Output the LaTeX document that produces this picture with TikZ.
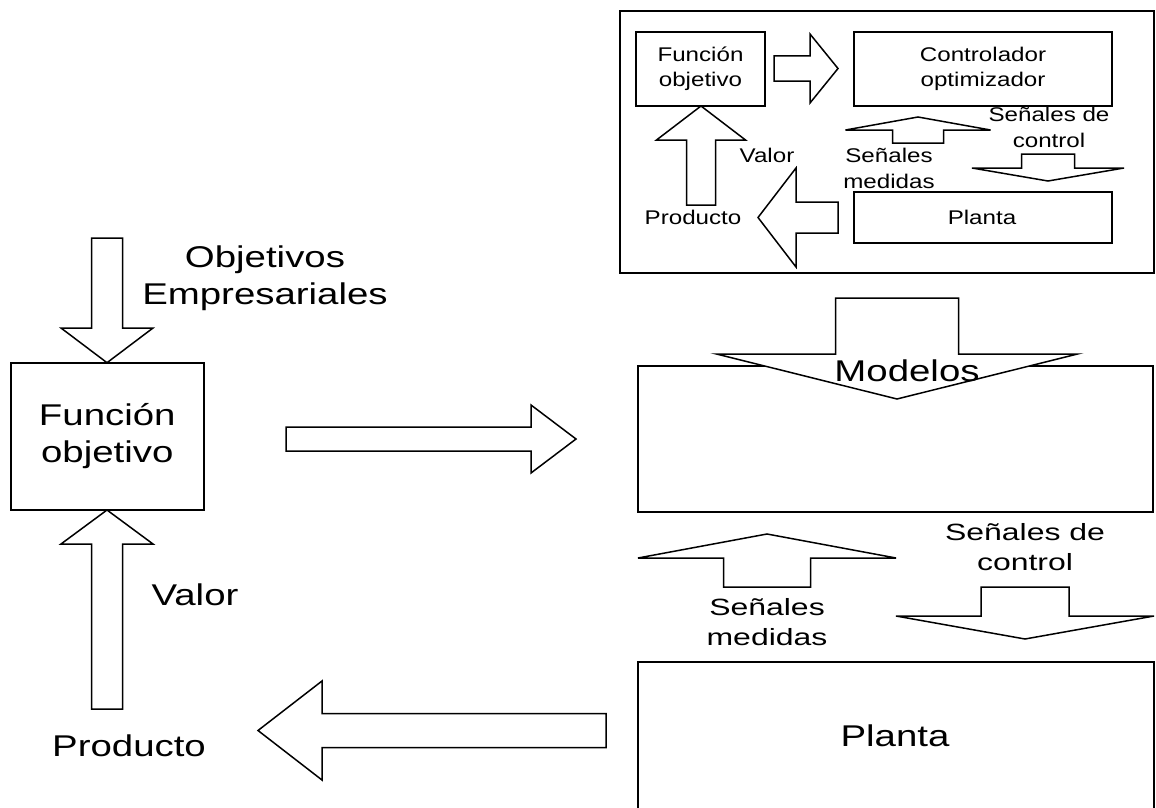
\documentclass[tikz,border=0pt]{standalone}
\usepackage{fontspec}
\setmainfont{Liberation Sans}
\newfontfamily\bigfont[FakeStretch=1.28]{Liberation Sans}
\newfontfamily\midfont[FakeStretch=1.36]{Liberation Sans}
\newfontfamily\smallfont[FakeStretch=1.22]{Liberation Sans}
% vertical block arrow: tip x, tip y, head base y, half head width, half shaft width, shaft end y
\newcommand\vblk[6]{\draw[blk] (#1-#5,#6) -- (#1-#5,#3) -- (#1-#4,#3) -- (#1,#2) -- (#1+#4,#3) -- (#1+#5,#3) -- (#1+#5,#6) -- cycle;}
% horizontal block arrow: tip x, tip y, head base x, half head height, half shaft height, shaft end x
\newcommand\hblk[6]{\draw[blk] (#6,#2-#5) -- (#3,#2-#5) -- (#3,#2-#4) -- (#1,#2) -- (#3,#2+#4) -- (#3,#2+#5) -- (#6,#2+#5) -- cycle;}
\begin{document}
\begin{tikzpicture}[x=1pt,y=-1pt,line width=1.5pt,line join=miter,
  box/.style={draw,fill=white,inner sep=0pt,align=center},
  blk/.style={draw,fill=white},
  bigtxt/.style={font=\bigfont\fontsize{30}{37}\selectfont,align=center,inner sep=0pt},
  midtxt/.style={font=\midfont\fontsize{23.5}{30}\selectfont,align=center,inner sep=0pt},
  smtxt/.style={font=\smallfont\fontsize{19.8}{25.5}\selectfont,align=center,inner sep=0pt}]
\useasboundingbox (0,0) rectangle (1156,808);
\clip (0,0) rectangle (1156,808);

% ---------- inset (top right) ----------
\node[box,minimum width=534pt,minimum height=262pt] (frame) at (887,142) {};
\node[box,smtxt,minimum width=129pt,minimum height=74pt] (ifo) at (700.5,69) {Función\\objetivo};
\node[box,smtxt,minimum width=258pt,minimum height=74pt] (ictl) at (983,69) {Controlador\\optimizador};
\node[box,minimum width=258pt,minimum height=51pt] (ipl) at (983,217.5) {};
\node[smtxt,anchor=base] (ipltxt) at (982,224) {Planta};
\hblk{838}{68.5}{810}{34.5}{12.5}{774}
\vblk{701}{106}{140}{44.5}{14.5}{205}
\hblk{758}{217.5}{796}{49.5}{15.5}{838}
\vblk{918}{117}{130}{72.5}{25.5}{143}
\vblk{1048}{181}{168}{76}{26.5}{154}
\node[smtxt,anchor=base] (ival) at (767,162) {Valor};
\node[smtxt] (imed) at (889,168.4) {Señales\\medidas};
\node[smtxt] (ictltxt) at (1049,127.4) {Señales de\\control};
\node[smtxt,anchor=base] (iprod) at (693,224) {Producto};

% ---------- main diagram ----------
\node[box,bigtxt,minimum width=193pt,minimum height=147pt] (fo) at (107.3,436.3) {Función\\objetivo};
\node[box,minimum width=515pt,minimum height=146pt] (mod) at (895.5,439) {};
\node[box,minimum width=516pt,minimum height=200pt] (pl) at (896,762) {};
\node[bigtxt,anchor=base] (pltxt) at (895,746) {Planta};

\vblk{107}{362.7}{328}{46}{15.5}{238}
\hblk{576}{439}{531}{34}{12}{286}
\vblk{107}{510}{544}{46}{15.5}{709}
\hblk{258}{730.5}{322}{49.5}{17}{606}
\vblk{897}{399}{354}{180.5}{61.5}{298}
\vblk{767}{534}{558}{129}{43.5}{587}
\vblk{1025}{639}{616}{129}{44}{587}

\node[bigtxt,anchor=base] (modtxt) at (907,381.7) {Modelos};
\node[bigtxt] (obj) at (265,278.5) {Objetivos\\Empresariales};
\node[bigtxt,anchor=base] (val) at (195,605) {Valor};
\node[bigtxt,anchor=base] (prod) at (129,756) {Producto};
\node[midtxt] (ctl) at (1025,547.3) {Señales de\\control};
\node[midtxt] (med) at (767,621.6) {Señales\\medidas};
\end{tikzpicture}
\end{document}
